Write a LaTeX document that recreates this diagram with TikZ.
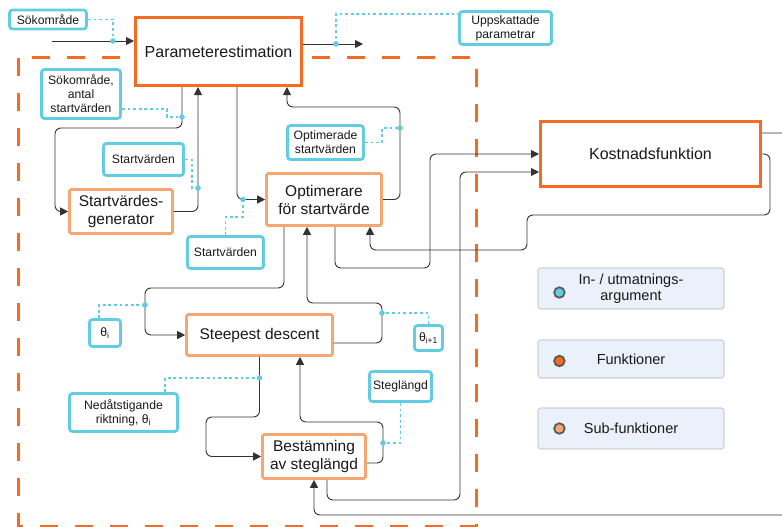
\documentclass[tikz,border=0pt]{standalone}
\usepackage{fontspec}
\setmainfont{Liberation Sans}
\usepackage{xcolor}
\usepackage{tikz}
\usetikzlibrary{arrows.meta}
\definecolor{orng}{RGB}{243,108,33}
\definecolor{lorng}{RGB}{245,166,115}
\definecolor{cyn}{RGB}{98,204,226}
\definecolor{wirec}{RGB}{51,51,51}
\definecolor{txt}{RGB}{25,25,25}
\definecolor{lgfill}{RGB}{234,241,250}
\definecolor{lgline}{RGB}{205,210,216}

\begin{document}
\begin{tikzpicture}[x=1pt,y=-1pt,text=txt]
\tikzstyle{func}=[draw=orng, line width=3pt, fill=white, align=center, inner sep=0pt, font=\fontsize{16}{19}\selectfont]
\tikzstyle{subfunc}=[draw=lorng, line width=2.6pt, fill=white, rounded corners=1.5pt, align=center, inner sep=0pt, font=\fontsize{15.5}{18}\selectfont]
\tikzstyle{arg}=[draw=cyn, line width=2.8pt, fill=white, rounded corners=3pt, align=center, inner sep=0pt, font=\fontsize{12.2}{14}\selectfont]
\tikzstyle{conn}=[draw=wirec, line width=0.9pt, rounded corners=6pt, -{Triangle[length=8pt,width=8pt]}]
\tikzstyle{dotln}=[draw=cyn, line width=1.4pt, dash pattern=on 2.8pt off 2.8pt]
\tikzstyle{lgbox}=[draw=lgline, line width=1.2pt, fill=lgfill, rounded corners=3pt, minimum width=186pt, align=center, inner sep=0pt, font=\fontsize{14.5}{16}\selectfont]
\tikzstyle{lgdot}=[circle, draw=black!65, line width=1.8pt, minimum size=10.5pt, inner sep=0pt]
\useasboundingbox (0,0) rectangle (782,527);
\clip (0,0) rectangle (782,527);

\draw[orng, line width=3pt, dash pattern=on 18pt off 17pt] (18,58) rectangle (476,526);

\node[func, minimum width=166pt, minimum height=68pt] (pe) at (218.5,51.5) {Parameterestimation};
\node[func, minimum width=220pt, minimum height=65pt] (kf) at (650.5,154) {Kostnadsfunktion};
\node[subfunc, minimum width=103pt, minimum height=44pt] (sg) at (121,211.5) {Startvärdes-\\generator};
\node[subfunc, minimum width=115pt, minimum height=52pt] (os) at (324,199.5) {Optimerare\\för startvärde};
\node[subfunc, minimum width=146pt, minimum height=41pt] (sd) at (259.5,335) {Steepest descent};
\node[subfunc, minimum width=103pt, minimum height=44pt] (bs) at (314,456.5) {Bestämning\\av steglängd};

\node[arg, minimum width=77pt, minimum height=19pt] (so) at (48,19.5) {Sökområde};
\node[arg, minimum width=92pt, minimum height=33pt] (up) at (505.5,28) {Uppskattade\\parametrar};
\node[arg, minimum width=79pt, minimum height=49pt] (sa) at (81,94) {Sökområde,\\antal\\startvärden};
\node[arg, minimum width=80pt, minimum height=32pt] (sv1) at (143.5,159.5) {Startvärden};
\node[arg, minimum width=76pt, minimum height=34pt] (osv) at (325.5,142.5) {Optimerade\\startvärden};
\node[arg, minimum width=76pt, minimum height=32pt] (sv2) at (225.5,252.5) {Startvärden};
\node[arg, minimum width=31pt, minimum height=27pt] (ti) at (105,333) {θ\textsubscript{i}};
\node[arg, minimum width=28pt, minimum height=25pt] (ti1) at (428.5,338) {θ\textsubscript{i+1}};
\node[arg, minimum width=108pt, minimum height=38pt] (nr) at (123.5,412.5) {Nedåtstigande\\riktning, θ\textsubscript{i}};
\node[arg, minimum width=62pt, minimum height=30pt] (sl) at (400.5,386.5) {Steglängd};

\coordinate (inS) at (52,41);
\coordinate (outE) at (363,44);
\coordinate (d1) at (113,41);
\coordinate (d2) at (336,44);
\coordinate (d3) at (182,117);
\coordinate (d4) at (198,188);
\coordinate (d5) at (243,199.5);
\coordinate (d6) at (400,128);
\coordinate (d7) at (145,305);
\coordinate (d8) at (382,313);
\coordinate (d9) at (259.5,378);
\coordinate (d10) at (383,443);

\draw[conn] (inS) -- ([yshift=10.5pt]pe.west);
\draw[conn] ([yshift=7.5pt]pe.east) -- (outE);
\draw[conn] ([xshift=-36.5pt]pe.south) |- (55,128) |- (sg.west);
\draw[conn] (sg.east) -| ([xshift=-20.5pt]pe.south);
\draw[conn] ([xshift=18.5pt]pe.south) |- (os.west);
\draw[conn] (os.east) -| (400,107) -| ([xshift=68.5pt]pe.south);
\draw[conn] ([xshift=-40pt]os.south) |- (145,288) |- (sd.west);
\draw[conn] ([yshift=-8pt]sd.east) -| (382,303) -| ([xshift=-17pt]os.south);
\draw[conn] (sd.south) |- (206,417) |- (bs.west);
\draw[conn] ([yshift=-6.5pt]bs.east) -| (383,422) -| ([xshift=40.5pt]sd.south);
\draw[conn] ([xshift=11pt]os.south) |- (430,268) |- (kf.west);
\draw[conn] ([xshift=13pt]bs.south) |- (460,500) |- ([yshift=-18pt]kf.west);
\draw[conn] (kf.east) -| (770,215) -| (527,250) -| ([xshift=46pt]os.south);
\draw[conn] ([yshift=21pt]kf.east) -| (800,515) -| (bs.south);

\draw[dotln] (so.east) -| (d1);
\draw[dotln] (d2) |- ([yshift=14pt]up.west);
\draw[dotln] ([yshift=-15pt]sa.east) -| (167,117) -- (d3);
\draw[dotln] (sv1.east) -| (192,188) -- (d4);
\draw[dotln] (sv2.north) |- (243,217) -- (d5);
\draw[dotln] (osv.east) -| (382,128) -- (d6);
\draw[dotln] ([xshift=-6pt]ti.north) |- (d7);
\draw[dotln] (ti1.north) |- (d8);
\draw[dotln] ([xshift=41.5pt]nr.north) |- (d9);
\draw[dotln] (sl.south) |- (d10);
\foreach \i in {1,...,10} \fill[cyn] (d\i) circle (2.8pt);

\node[lgbox, minimum height=41pt] (arglg) at (631,288.5) {In- / utmatnings-\\argument};
\node[lgbox, minimum height=38pt] (funclg) at (631,359) {Funktioner};
\node[lgbox, minimum height=41pt] (sublg) at (631,428.5) {Sub-funktioner};
\node[lgdot, fill=cyn] (argdot) at ([xshift=22pt,yshift=-4pt]arglg.west) {};
\node[lgdot, fill=orng] (funcdot) at ([xshift=22pt,yshift=-2pt]funclg.west) {};
\node[lgdot, fill=lorng] (subdot) at ([xshift=22pt]sublg.west) {};

\end{tikzpicture}
\end{document}
